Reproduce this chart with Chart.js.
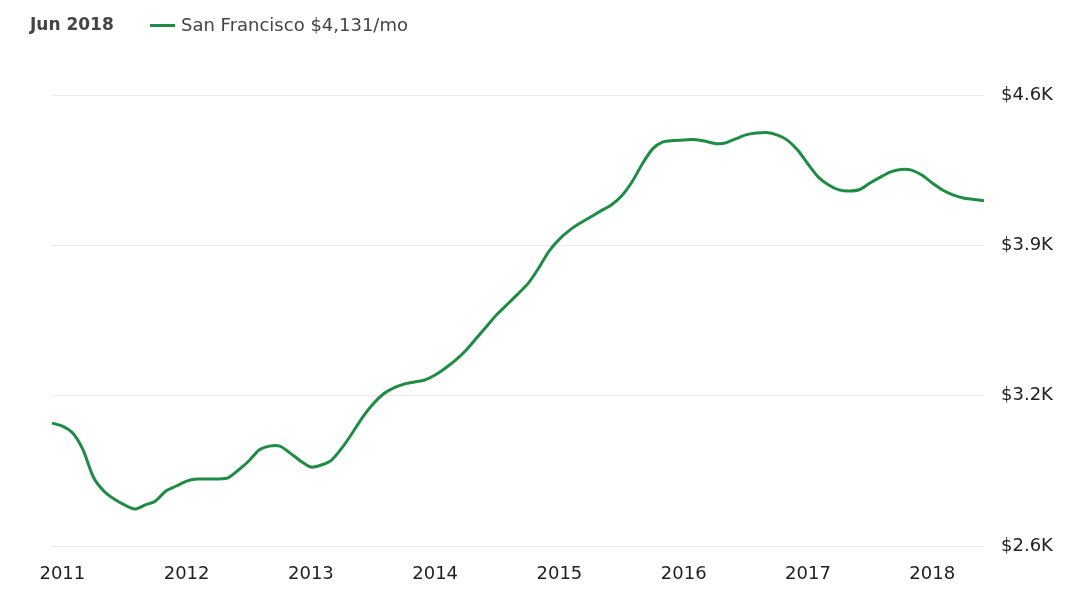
<!DOCTYPE html>
<html>
<head>
<meta charset="utf-8">
<script src="https://cdn.jsdelivr.net/npm/chart.js@4/dist/chart.umd.min.js"></script>
<style>
	html, body { margin: 0; padding: 0; background: #fff; }
	#wrap { position: relative; width: 1080px; height: 597px; }
	#rent-chart { position: absolute; left: 0; top: 0; }
	.sf-legend { position: absolute; left: 30px; top: 14px; font-family: "DejaVu Sans", sans-serif; color: #444; white-space: nowrap; }
	.sf-date { position: absolute; left: 0; top: 0; font-size: 17px; font-weight: bold; }
	.sf-item { position: absolute; left: 120px; top: 0; font-size: 18px; }
	.sf-dash { display: inline-block; width: 25px; height: 3px; background: #1f8c46; vertical-align: middle; margin-right: 6px; position: relative; top: -1px; }
</style>
</head>
<body>
<div id="wrap">
	<canvas id="rent-chart" width="1080" height="597"></canvas>
	<div class="sf-legend">
		<span class="sf-date">Jun 2018</span>
		<span class="sf-item"><span class="sf-dash"></span>San Francisco $4,131/mo</span>
	</div>
</div>
<script>
// monthly points, Dec 2010 .. Jun 2018
var months = [
	'Dec 2010',
	'Jan 2011', 'Feb 2011', 'Mar 2011', 'Apr 2011', 'May 2011', 'Jun 2011', 'Jul 2011', 'Aug 2011', 'Sep 2011', 'Oct 2011', 'Nov 2011', 'Dec 2011',
	'Jan 2012', 'Feb 2012', 'Mar 2012', 'Apr 2012', 'May 2012', 'Jun 2012', 'Jul 2012', 'Aug 2012', 'Sep 2012', 'Oct 2012', 'Nov 2012', 'Dec 2012',
	'Jan 2013', 'Feb 2013', 'Mar 2013', 'Apr 2013', 'May 2013', 'Jun 2013', 'Jul 2013', 'Aug 2013', 'Sep 2013', 'Oct 2013', 'Nov 2013', 'Dec 2013',
	'Jan 2014', 'Feb 2014', 'Mar 2014', 'Apr 2014', 'May 2014', 'Jun 2014', 'Jul 2014', 'Aug 2014', 'Sep 2014', 'Oct 2014', 'Nov 2014', 'Dec 2014',
	'Jan 2015', 'Feb 2015', 'Mar 2015', 'Apr 2015', 'May 2015', 'Jun 2015', 'Jul 2015', 'Aug 2015', 'Sep 2015', 'Oct 2015', 'Nov 2015', 'Dec 2015',
	'Jan 2016', 'Feb 2016', 'Mar 2016', 'Apr 2016', 'May 2016', 'Jun 2016', 'Jul 2016', 'Aug 2016', 'Sep 2016', 'Oct 2016', 'Nov 2016', 'Dec 2016',
	'Jan 2017', 'Feb 2017', 'Mar 2017', 'Apr 2017', 'May 2017', 'Jun 2017', 'Jul 2017', 'Aug 2017', 'Sep 2017', 'Oct 2017', 'Nov 2017', 'Dec 2017',
	'Jan 2018', 'Feb 2018', 'Mar 2018', 'Apr 2018', 'May 2018', 'Jun 2018'
];

var sfRent = [
	3145,
	3132, 3101, 3026, 2905, 2844, 2808, 2782, 2764, 2782, 2800, 2844, 2866,
	2888, 2897, 2897, 2897, 2902, 2937, 2977, 3026, 3043, 3043, 3012, 2977,
	2950, 2959, 2981, 3035, 3101, 3172, 3230, 3274, 3301, 3318, 3327, 3336,
	3358, 3389, 3425, 3469, 3522, 3576, 3629, 3673, 3718, 3766, 3833, 3908,
	3961, 4001, 4032, 4059, 4086, 4112, 4152, 4214, 4294, 4361, 4392, 4398,
	4400, 4403, 4396, 4385, 4387, 4405, 4423, 4431, 4434, 4423, 4400, 4356,
	4294, 4236, 4201, 4179, 4174, 4181, 4210, 4236, 4259, 4270, 4267, 4245,
	4210, 4179, 4157, 4143, 4137, 4131
];

var yearTicks = ['2011', '2012', '2013', '2014', '2015', '2016', '2017', '2018'];
var yTickValues = [2600, 3266.67, 3933.33, 4600];
var yTickLabels = ['$2.6K', '$3.2K', '$3.9K', '$4.6K'];

var GREEN = '#1f8c46';
var TICK_FONT = { family: 'DejaVu Sans', size: 18 };

new Chart(document.getElementById('rent-chart'), {
	type: 'line',
	data: {
		labels: months,
		datasets: [{
			label: 'San Francisco',
			data: sfRent,
			borderColor: GREEN,
			borderWidth: 3,
			pointRadius: 0,
			tension: 0.25,
			fill: false
		}]
	},
	options: {
		responsive: false,
		animation: false,
		layout: { padding: { top: 95, left: 52, right: 0, bottom: 0 } },
		plugins: { legend: { display: false }, tooltip: { enabled: false } },
		scales: {
			x: {
				offset: false,
				grid: { display: false },
				border: { display: false },
				afterFit: function (s) { s.height = 51; },
				ticks: {
					autoSkip: false, maxRotation: 0, padding: 10,
					color: '#222', font: TICK_FONT,
					callback: function (v, i) {
						var parts = months[i].split(' ');
						if (parts[0] === 'Jan' && yearTicks.indexOf(parts[1]) !== -1) return parts[1];
						return null;
					}
				}
			},
			y: {
				position: 'right',
				min: 2600, max: 4600,
				grid: { color: '#ececec', lineWidth: 1, drawTicks: false },
				border: { display: false },
				afterFit: function (s) { s.width = 96; },
				afterBuildTicks: function (s) {
					s.ticks = yTickValues.map(function (v) { return { value: v }; });
				},
				ticks: {
					padding: 17, color: '#222', font: TICK_FONT,
					callback: function (v) {
						var i = yTickValues.indexOf(v);
						return i !== -1 ? yTickLabels[i] : '';
					}
				}
			}
		}
	}
});
</script>
</body>
</html>
